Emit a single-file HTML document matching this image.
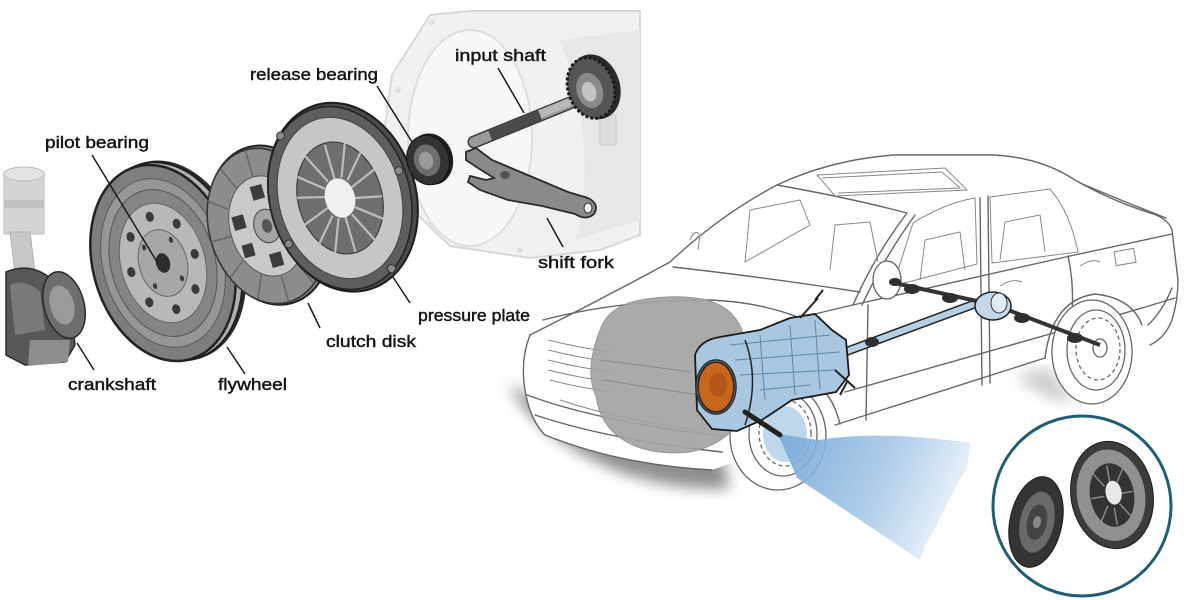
<!DOCTYPE html>
<html><head><meta charset="utf-8"><style>
html,body{margin:0;padding:0;background:#fff;}
svg{display:block;}
text{font-family:"Liberation Sans",sans-serif;font-size:17px;fill:#151515;stroke:#151515;stroke-width:0.45px;}
</style></head><body>
<svg width="1200" height="600" viewBox="0 0 1200 600" xmlns="http://www.w3.org/2000/svg">
<defs>
<linearGradient id="beam" x1="0" y1="0" x2="1" y2="0.3">
<stop offset="0" stop-color="#6fa4d6"/><stop offset="0.6" stop-color="#a9c9e8"/><stop offset="1" stop-color="#e6f0f9"/>
</linearGradient>
<filter id="blur"><feGaussianBlur stdDeviation="7"/></filter>
</defs>

<!-- ===== transmission housing (light) ===== -->
<path d="M392,75 L430,15 L470,11 L640,11 L640,235 L600,250 L530,258 L450,246 L402,200 L383,140 Z" fill="#f1f1f1" stroke="#d8d8d8" stroke-width="2"/>
<ellipse cx="470" cy="138" rx="62" ry="108" fill="#f8f8f8" stroke="#dedede" stroke-width="2"/>
<path d="M560,40 L640,30 L640,220 L575,240 Q600,150 560,40 Z" fill="#e7e7e7"/>
<rect x="600" y="115" width="16" height="30" fill="#dcdcdc" stroke="#cccccc"/>
<g fill="#e0e0e0"><circle cx="432" cy="22" r="3"/><circle cx="398" cy="90" r="3"/><circle cx="392" cy="160" r="3"/><circle cx="430" cy="225" r="3"/><circle cx="520" cy="250" r="3"/></g>

<!-- ===== piston & crank ===== -->
<rect x="4" y="172" width="40" height="62" fill="#d4d4d4" stroke="#bdbdbd"/>
<ellipse cx="24" cy="174" rx="20" ry="7" fill="#e4e4e4" stroke="#bbb"/>
<rect x="4" y="200" width="40" height="8" fill="#c2c2c2"/>
<path d="M10,232 L30,232 L36,280 L16,282 Z" fill="#c8c8c8" stroke="#b0b0b0"/>
<path d="M6,272 Q30,262 50,278 L70,300 L75,345 L65,362 L25,365 L6,355 Z" fill="#585858" stroke="#2a2a2a" stroke-width="1.5"/>
<path d="M10,285 Q25,278 40,292 L45,330 L15,335 Z" fill="#7a7a7a"/>
<path d="M30,340 L70,340 L68,362 L28,366 Z" fill="#8e8e8e"/>
<ellipse cx="64" cy="305" rx="20" ry="34" fill="#6e6e6e" stroke="#2a2a2a" stroke-width="1.5" transform="rotate(-15 64 305)"/>
<ellipse cx="62" cy="305" rx="12" ry="20" fill="#9a9a9a" transform="rotate(-15 62 305)"/>

<!-- ===== flywheel ===== -->
<g transform="translate(163,263) rotate(-16)">
<ellipse cx="9" cy="0" rx="72" ry="102" fill="#2a2a2a"/>
<ellipse cx="6" cy="0" rx="71" ry="101" fill="#b0b0b0" stroke="#1e1e1e" stroke-width="2"/>
<ellipse cx="0" cy="0" rx="70" ry="100" fill="#7e7e7e" stroke="#222" stroke-width="2.5"/>
<ellipse cx="0" cy="0" rx="60" ry="86" fill="#969696" stroke="#5a5a5a"/>
<ellipse cx="0" cy="0" rx="52" ry="75" fill="#858585" stroke="#555"/>
<ellipse cx="0" cy="0" rx="42" ry="61" fill="#b8b8b8" stroke="#666"/>
<ellipse cx="0" cy="0" rx="24" ry="34" fill="#a6a6a6" stroke="#666"/>
<ellipse cx="0" cy="0" rx="7" ry="10" fill="#2c2c2c"/>
<g fill="#3a3a3a">
<ellipse cx="0" cy="-48" rx="4" ry="5"/><ellipse cx="0" cy="48" rx="4" ry="5"/>
<ellipse cx="-33" cy="0" rx="4" ry="5"/><ellipse cx="33" cy="0" rx="4" ry="5"/>
<ellipse cx="-24" cy="-34" rx="4" ry="5"/><ellipse cx="24" cy="-34" rx="4" ry="5"/>
<ellipse cx="-24" cy="34" rx="4" ry="5"/><ellipse cx="24" cy="34" rx="4" ry="5"/>
<ellipse cx="-14" cy="-20" rx="2" ry="3"/><ellipse cx="14" cy="20" rx="2" ry="3"/>
<ellipse cx="14" cy="-20" rx="2" ry="3"/><ellipse cx="-14" cy="20" rx="2" ry="3"/>
</g>
</g>

<!-- ===== clutch disk ===== -->
<g transform="translate(267,226) rotate(-16)">
<ellipse cx="3" cy="0" rx="60" ry="81" fill="#7a7a7a" stroke="#222" stroke-width="2"/>
<ellipse cx="0" cy="0" rx="58" ry="79" fill="#8c8c8c" stroke="#333" stroke-width="1.5"/>
<g stroke="#666" stroke-width="1.5">
<line x1="0" y1="-79" x2="0" y2="-52"/><line x1="29" y1="-68" x2="19" y2="-45"/><line x1="50" y1="-40" x2="33" y2="-27"/>
<line x1="58" y1="0" x2="38" y2="0"/><line x1="50" y1="40" x2="33" y2="27"/><line x1="29" y1="68" x2="19" y2="45"/>
<line x1="0" y1="79" x2="0" y2="52"/><line x1="-29" y1="68" x2="-19" y2="45"/><line x1="-50" y1="40" x2="-33" y2="27"/>
<line x1="-58" y1="0" x2="-38" y2="0"/><line x1="-50" y1="-40" x2="-33" y2="-27"/><line x1="-29" y1="-68" x2="-19" y2="-45"/>
</g>
<ellipse cx="0" cy="0" rx="37" ry="51" fill="#c9c9c9" stroke="#555"/>
<g fill="#3c3c3c">
<rect x="-6" y="-42" width="12" height="14"/><rect x="-6" y="28" width="12" height="14"/>
<rect x="-32" y="-18" width="12" height="14"/><rect x="20" y="4" width="12" height="14"/>
<rect x="-30" y="12" width="11" height="13"/><rect x="19" y="-26" width="11" height="13"/>
</g>
<ellipse cx="0" cy="0" rx="13" ry="17" fill="#a5a5a5" stroke="#444"/>
<ellipse cx="0" cy="0" rx="5" ry="7" fill="#555"/>
</g>

<!-- ===== pressure plate ===== -->
<g transform="translate(340,198) rotate(-16)">
<ellipse cx="3" cy="0" rx="73" ry="96" fill="#4a4a4a" stroke="#1c1c1c" stroke-width="2"/>
<ellipse cx="0" cy="0" rx="70" ry="93" fill="#5e5e5e" stroke="#222" stroke-width="1.5"/>
<ellipse cx="0" cy="0" rx="61" ry="82" fill="#c6c6c6" stroke="#444"/>
<ellipse cx="0" cy="0" rx="42" ry="57" fill="#6e6e6e" stroke="#333"/>
<g stroke="#bdbdbd" stroke-width="2.2">
<line x1="0" y1="-55" x2="0" y2="-20"/><line x1="20" y1="-52" x2="7" y2="-19"/><line x1="34" y1="-40" x2="12" y2="-15"/>
<line x1="41" y1="-18" x2="14" y2="-7"/><line x1="41" y1="10" x2="14" y2="4"/><line x1="36" y1="32" x2="12" y2="13"/>
<line x1="22" y1="50" x2="7" y2="19"/><line x1="0" y1="56" x2="0" y2="20"/><line x1="-20" y1="52" x2="-7" y2="19"/>
<line x1="-34" y1="40" x2="-12" y2="15"/><line x1="-41" y1="16" x2="-14" y2="6"/><line x1="-41" y1="-12" x2="-14" y2="-5"/>
<line x1="-35" y1="-32" x2="-12" y2="-13"/><line x1="-22" y1="-50" x2="-7" y2="-19"/>
</g>
<ellipse cx="0" cy="0" rx="15" ry="20" fill="#f0f0f0"/>
<g fill="#8a8a8a" stroke="#333"><circle cx="-40" cy="-76" r="4"/><circle cx="64" cy="-10" r="4"/><circle cx="30" cy="82" r="4"/><circle cx="-62" cy="30" r="4"/></g>
</g>

<!-- ===== release bearing ===== -->
<g transform="translate(428,160) rotate(-16)">
<ellipse cx="3" cy="0" rx="22" ry="26" fill="#1e1e1e"/>
<ellipse cx="0" cy="0" rx="21" ry="25" fill="#333" stroke="#111"/>
<ellipse cx="-1" cy="0" rx="13" ry="16" fill="#6e6e6e"/>
<ellipse cx="-2" cy="0" rx="7" ry="9" fill="#9a9a9a"/>
</g>

<!-- ===== input shaft ===== -->
<line x1="474" y1="142" x2="570" y2="103" stroke="#3a3a3a" stroke-width="13" stroke-linecap="round"/>
<line x1="474" y1="142" x2="570" y2="103" stroke="#9a9a9a" stroke-width="10" stroke-linecap="round"/>
<line x1="490" y1="135" x2="540" y2="115" stroke="#4a4a4a" stroke-width="11"/>
<line x1="540" y1="114" x2="572" y2="101" stroke="#b8b8b8" stroke-width="8"/>
<g transform="translate(591,88) rotate(-18)">
<ellipse cx="4" cy="0" rx="25" ry="33" fill="#2a2a2a"/>
<ellipse cx="0" cy="0" rx="23" ry="31" fill="#555" stroke="#1a1a1a" stroke-width="3" stroke-dasharray="3 2"/>
<ellipse cx="-2" cy="2" rx="13" ry="18" fill="#8a8a8a"/>
<ellipse cx="-3" cy="3" rx="7" ry="10" fill="#c4c4c4"/>
</g>

<!-- ===== shift fork ===== -->
<path d="M466,152 L476,148 L492,160 L530,176 L568,192 L588,198 Q600,204 594,214 Q586,221 575,214 L542,206 L508,200 L480,190 L468,182 L470,176 L486,180 L494,178 L478,168 L466,160 Z" fill="#8a8a8a" stroke="#2a2a2a" stroke-width="1.8"/>
<ellipse cx="588" cy="208" rx="4" ry="5" fill="#eee" stroke="#333"/>
<ellipse cx="505" cy="175" rx="5" ry="4" fill="#555"/>

<!-- ===== labels & leaders ===== -->
<g stroke="#1a1a1a" stroke-width="1.5" fill="none">
<line x1="498" y1="68" x2="524" y2="113"/>
<line x1="377" y1="86" x2="412" y2="142"/>
<line x1="92" y1="155" x2="157" y2="262"/>
<line x1="77" y1="343" x2="94" y2="370"/>
<line x1="227" y1="347" x2="245" y2="374"/>
<line x1="308" y1="303" x2="320" y2="328"/>
<line x1="393" y1="277" x2="410" y2="303"/>
<line x1="547" y1="218" x2="563" y2="247"/>
</g>
<text x="455" y="61" textLength="91" lengthAdjust="spacingAndGlyphs">input shaft</text>
<text x="250" y="80" textLength="128" lengthAdjust="spacingAndGlyphs">release bearing</text>
<text x="45" y="148" textLength="104" lengthAdjust="spacingAndGlyphs">pilot bearing</text>
<text x="538" y="268" textLength="76" lengthAdjust="spacingAndGlyphs">shift fork</text>
<text x="418" y="321" textLength="112" lengthAdjust="spacingAndGlyphs">pressure plate</text>
<text x="326" y="347" textLength="90" lengthAdjust="spacingAndGlyphs">clutch disk</text>
<text x="68" y="390" textLength="88" lengthAdjust="spacingAndGlyphs">crankshaft</text>
<text x="218" y="390" textLength="69" lengthAdjust="spacingAndGlyphs">flywheel</text>

<!-- ===== car ===== -->
<!-- shadow -->
<path d="M508,385 Q540,440 620,472 Q680,492 730,488 L722,455 Q620,445 540,400 Z" fill="#7a7a7a" opacity="0.85" filter="url(#blur)"/>
<path d="M1015,375 Q1040,398 1075,405 L1050,368 Z" fill="#aaa" opacity="0.6" filter="url(#blur)"/>
<!-- body fill -->
<path d="M530,335 Q600,300 670,262 Q720,215 777,185 Q830,160 893,155 L993,155 Q1040,157 1075,180 Q1110,200 1150,213 Q1168,218 1172,230 L1178,280 Q1178,300 1172,320 Q1165,338 1150,345 L1045,358 L835,425 L712,470 Q620,465 545,435 Q530,420 525,390 Q520,360 530,335 Z" fill="#fff"/>
<g fill="none" stroke="#666" stroke-width="1.4" stroke-linejoin="round" stroke-linecap="round">
<path d="M670,262 Q720,215 777,185 Q830,160 893,155 L993,155 Q1040,157 1075,180 Q1110,200 1150,213 Q1168,218 1172,230 L1178,280 Q1178,300 1172,320 Q1165,338 1150,345"/>
<path d="M777,185 Q850,198 907,213"/>
<path d="M907,213 Q875,255 853,305"/>
<path d="M915,215 Q884,258 862,305"/>
<path d="M673,267 Q770,278 860,292"/>
<path d="M530,335 Q600,300 670,262"/>
<path d="M543,320 Q620,300 710,300 Q760,302 800,318"/>
<path d="M530,335 Q520,360 525,390 Q530,420 545,435 Q620,465 712,470"/>
<path d="M527,395 Q600,422 722,436"/>
<path d="M535,415 Q610,440 722,452"/>
<path d="M853,305 L1070,256 L1172,234"/>
<path d="M800,318 Q830,310 853,305"/>
<path d="M845,392 L1050,334 Q1110,318 1175,298"/>
<path d="M835,425 L1045,358"/>
<path d="M725,425 Q730,378 780,372 Q828,374 840,424"/>
<path d="M1045,358 Q1052,300 1095,294 Q1132,298 1142,325"/>
<path d="M868,305 L866,420"/>
<path d="M980,198 L982,385"/>
<path d="M988,196 L990,383"/>
<path d="M1068,256 Q1078,300 1066,355"/>
<path d="M1080,183 Q1120,200 1166,218"/>
<path d="M1172,288 Q1162,312 1148,325"/>
</g>
<g fill="none" stroke="#888" stroke-width="1">
<path d="M913,223 Q945,203 975,198 L977,264 L893,286 Z"/>
<path d="M990,197 L1050,189 Q1070,212 1078,252 L992,263 Z"/>
<path d="M817,175 L945,168 L967,190 L835,196 Z"/>
<path d="M822,178 L942,172 L960,188 L838,193"/>
<path d="M745,262 L750,210 L800,200 L810,225 Z"/>
<path d="M830,270 L835,225 L870,222 L878,262"/>
<path d="M920,280 L925,240 L960,232 L965,270"/>
<path d="M1000,260 L1005,222 L1040,215 L1045,252"/>
<path d="M548,340 Q580,348 612,352"/>
<path d="M548,350 Q580,358 612,362"/>
<path d="M548,360 Q580,368 612,372"/>
<path d="M548,370 Q580,378 612,382"/>
<path d="M550,380 Q580,388 612,392"/>
<path d="M560,400 Q620,420 700,430"/>
<rect x="1115" y="250" width="20" height="14" transform="rotate(-10 1125 257)"/>
<path d="M1000,286 Q1012,278 1022,282"/>
<path d="M1080,266 Q1092,258 1100,262"/>
<path d="M690,240 Q695,228 700,235 L698,250"/>
</g>
<!-- wheels -->
<g fill="#fff" stroke="#666" stroke-width="1.3">
<ellipse cx="778" cy="436" rx="48" ry="54"/>
<ellipse cx="783" cy="434" rx="34" ry="42"/>
<ellipse cx="785" cy="433" rx="26" ry="33" stroke-dasharray="4 3"/>
<ellipse cx="1092" cy="352" rx="40" ry="52"/>
<ellipse cx="1096" cy="350" rx="29" ry="40"/>
<ellipse cx="1098" cy="349" rx="22" ry="31" stroke-dasharray="4 3"/>
<ellipse cx="1100" cy="348" rx="7" ry="9"/>
</g>
<ellipse cx="887" cy="280" rx="14" ry="19" fill="#fff" stroke="#666" stroke-width="1.3"/>

<!-- engine blob -->
<path d="M600,330 Q608,306 640,300 Q672,294 702,299 Q732,305 742,330 L746,360 Q736,395 742,420 Q722,446 690,452 Q650,456 625,441 Q600,426 596,396 Q584,370 600,330 Z" fill="#a3a3a3" stroke="#8e8e8e" opacity="0.92"/>
<path d="M600,360 Q640,365 690,372 M605,380 Q650,388 700,395" stroke="#8a8a8a" fill="none"/>

<!-- beam -->
<path d="M778,434 L818,440 Q880,430 970,443 L967,468 L955,488 L944,510 L934,530 L925,546 L920,560 Q860,520 797,478 Z" fill="url(#beam)" opacity="0.9"/>
<ellipse cx="785" cy="434" rx="22" ry="28" fill="#7fb0dc" opacity="0.5"/>

<!-- rear drivetrain -->
<line x1="845" y1="352" x2="980" y2="302" stroke="#222" stroke-width="9" stroke-linecap="round"/>
<line x1="845" y1="352" x2="980" y2="302" stroke="#b5cfe4" stroke-width="6" stroke-linecap="round"/>
<line x1="890" y1="282" x2="995" y2="305" stroke="#333" stroke-width="4"/>
<line x1="995" y1="305" x2="1100" y2="345" stroke="#333" stroke-width="4"/>
<g fill="#2e2e2e"><ellipse cx="912" cy="289" rx="8" ry="5"/><ellipse cx="950" cy="298" rx="8" ry="5"/><ellipse cx="1022" cy="318" rx="8" ry="5"/><ellipse cx="1075" cy="338" rx="8" ry="5"/><ellipse cx="895" cy="282" rx="6" ry="4"/><ellipse cx="872" cy="342" rx="7" ry="5"/></g>
<ellipse cx="993" cy="306" rx="18" ry="14" fill="#c3d7e8" stroke="#222" stroke-width="1.5"/>
<ellipse cx="999" cy="303" rx="8" ry="10" fill="#e2ecf4" stroke="#333"/>

<!-- transmission -->
<path d="M695,355 Q700,340 720,337 L760,330 L790,318 L815,314 L832,330 L846,340 L849,375 L836,392 L792,400 L762,420 L737,431 L712,429 L697,410 Z" fill="#a9c7de" stroke="#1a1a1a" stroke-width="1.8"/>
<path d="M730,345 L830,335 M735,360 L840,352 M740,375 L835,370 M760,390 L810,385 M760,335 L765,400 M790,325 L795,395 M815,320 L820,390" stroke="#5e88a9" fill="none"/>
<path d="M745,340 Q760,380 745,425" stroke="#222" stroke-width="1.5" fill="none"/>
<path d="M800,318 L818,298 M815,300 L823,290" stroke="#222" stroke-width="2" fill="none"/>
<path d="M835,370 L855,388 M848,380 L840,395" stroke="#222" stroke-width="2" fill="none"/>
<ellipse cx="716" cy="387" rx="20" ry="27" fill="#d9ecf8" stroke="#222" stroke-width="1.5"/>
<ellipse cx="716" cy="387" rx="18" ry="25" fill="#c8671b" stroke="#222" stroke-width="1.8"/>
<ellipse cx="718" cy="385" rx="9" ry="12" fill="#b5561a"/>
<line x1="745" y1="412" x2="780" y2="435" stroke="#222" stroke-width="5" stroke-linecap="round"/>

<!-- inset circle -->
<ellipse cx="1082" cy="506" rx="89" ry="90" fill="#fff" stroke="#1f5d76" stroke-width="3"/>
<g transform="translate(1036,522) rotate(12)">
<ellipse cx="0" cy="0" rx="26" ry="46" fill="#343434" stroke="#1a1a1a"/>
<ellipse cx="1" cy="0" rx="17" ry="31" fill="#6a6a6a"/>
<ellipse cx="1" cy="0" rx="10" ry="18" fill="#444"/>
<ellipse cx="1" cy="0" rx="4" ry="6" fill="#888"/>
</g>
<g transform="translate(1112,495) rotate(-10)">
<ellipse cx="0" cy="0" rx="41" ry="54" fill="#3c3c3c" stroke="#1a1a1a"/>
<ellipse cx="-1" cy="0" rx="34" ry="46" fill="#909090"/>
<ellipse cx="0" cy="0" rx="22" ry="32" fill="#333"/>
<g stroke="#8a8a8a" stroke-width="1.5">
<line x1="0" y1="-30" x2="0" y2="-13"/><line x1="15" y1="-24" x2="6" y2="-10"/><line x1="21" y1="0" x2="8" y2="0"/>
<line x1="15" y1="24" x2="6" y2="10"/><line x1="0" y1="30" x2="0" y2="13"/><line x1="-15" y1="24" x2="-6" y2="10"/>
<line x1="-21" y1="0" x2="-8" y2="0"/><line x1="-15" y1="-24" x2="-6" y2="-10"/>
</g>
<ellipse cx="2" cy="-2" rx="8" ry="12" fill="#e8e8e8"/>
</g>
</svg>
</body></html>
